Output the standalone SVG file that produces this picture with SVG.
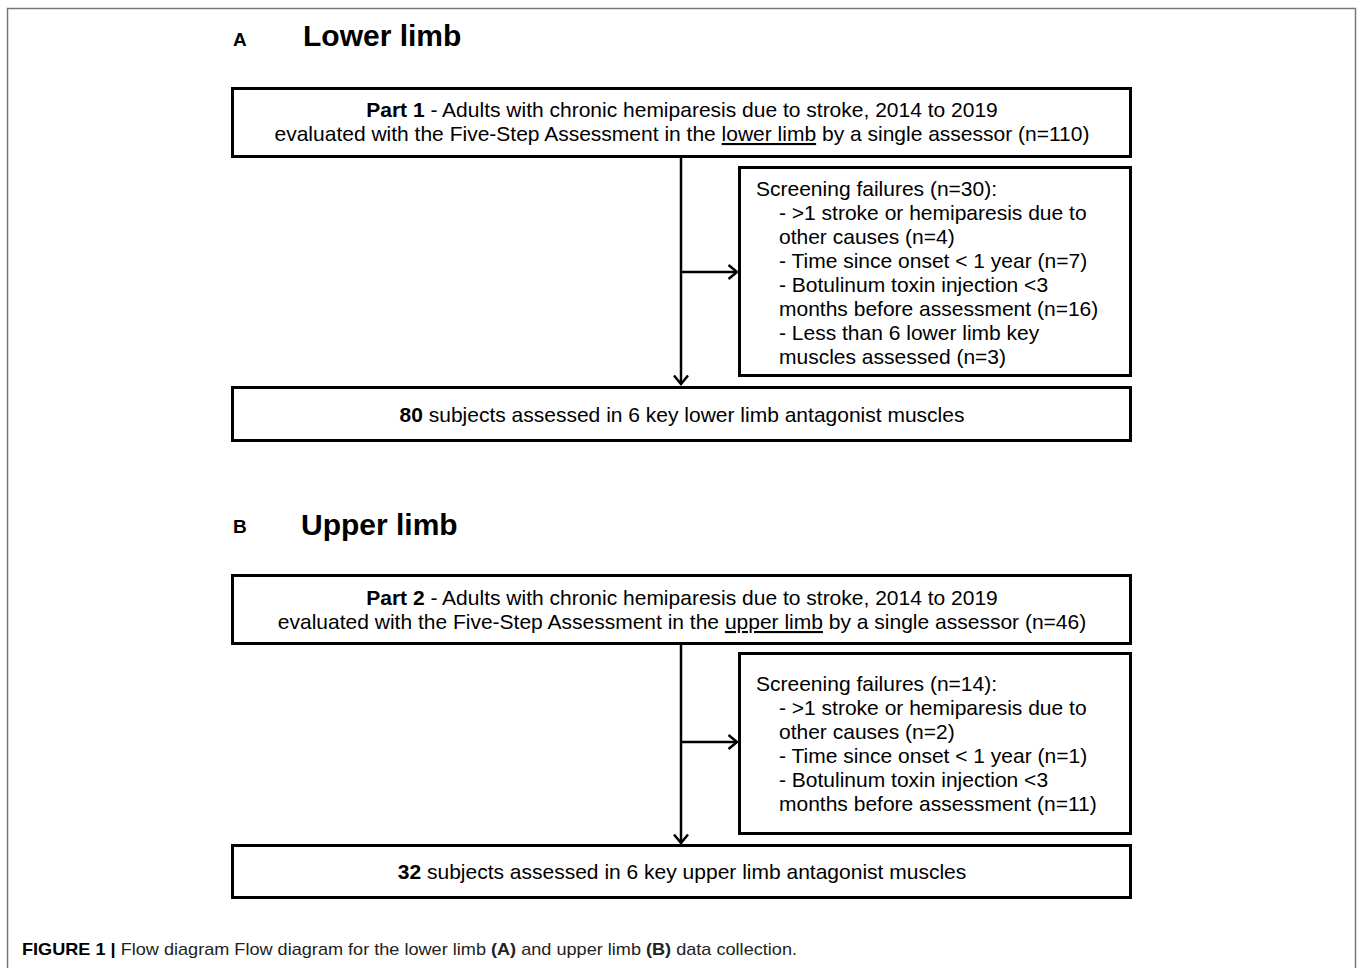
<svg xmlns="http://www.w3.org/2000/svg" width="1358" height="968" viewBox="0 0 1358 968">
<style>
.box{fill:#fff;stroke:#000;stroke-width:3}
.t{font-family:"Liberation Sans",Arial,sans-serif;font-size:21px;fill:#000}
.c{text-anchor:middle}
.b{font-weight:bold}
.title{font-family:"Liberation Sans",Arial,sans-serif;font-size:30px;font-weight:bold}
.lab{font-family:"Liberation Sans",Arial,sans-serif;font-size:19px;font-weight:bold}
.ln{stroke:#000;stroke-width:2.5;fill:none}
.cap{font-family:"Liberation Sans",Arial,sans-serif;font-size:17px;fill:#222}
</style>
<defs>
<marker id="ah" markerWidth="14" markerHeight="18" refX="10" refY="8" orient="auto" markerUnits="userSpaceOnUse">
<path d="M1.5,1 L10,8 L1.5,15" fill="none" stroke="#000" stroke-width="2.5"/>
</marker>
</defs>
<rect x="0" y="0" width="1358" height="968" fill="#fff"/>
<path d="M7.5,968 V8.5 H1355.5 V968" fill="none" stroke="#777" stroke-width="1.5"/>

<text x="233" y="46" class="lab">A</text>
<text x="303" y="46" class="title">Lower limb</text>
<text x="233" y="533" class="lab">B</text>
<text x="301" y="535" class="title">Upper limb</text>

<g id="connectors">
<line x1="681" y1="157" x2="681" y2="384" class="ln" marker-end="url(#ah)"/>
<line x1="681" y1="272" x2="737" y2="272" class="ln" marker-end="url(#ah)"/>
<line x1="681" y1="644" x2="681" y2="843" class="ln" marker-end="url(#ah)"/>
<line x1="681" y1="742" x2="737" y2="742" class="ln" marker-end="url(#ah)"/>
</g>

<g id="part1">
<rect x="232.5" y="88.5" width="898" height="68" class="box"/>
<text x="682" y="117" class="t c"><tspan class="b">Part 1</tspan> - Adults with chronic hemiparesis due to stroke, 2014 to 2019</text>
<text x="682" y="141" class="t c">evaluated with the Five-Step Assessment in the <tspan text-decoration="underline">lower limb</tspan> by a single assessor (n=110)</text>
</g>

<g id="screen1">
<rect x="739.5" y="167.5" width="391" height="208" class="box"/>
<text class="t"><tspan x="756" y="196">Screening failures (n=30):</tspan><tspan x="779" y="220">- &gt;1 stroke or hemiparesis due to</tspan><tspan x="779" y="244">other causes (n=4)</tspan><tspan x="779" y="268">- Time since onset &lt; 1 year (n=7)</tspan><tspan x="779" y="292">- Botulinum toxin injection &lt;3</tspan><tspan x="779" y="316">months before assessment (n=16)</tspan><tspan x="779" y="340">- Less than 6 lower limb key</tspan><tspan x="779" y="364">muscles assessed (n=3)</tspan></text>
</g>

<g id="result1">
<rect x="232.5" y="387.5" width="898" height="53" class="box"/>
<text x="682" y="422" class="t c"><tspan class="b">80</tspan> subjects assessed in 6 key lower limb antagonist muscles</text>
</g>

<g id="part2">
<rect x="232.5" y="575.5" width="898" height="68" class="box"/>
<text x="682" y="605" class="t c"><tspan class="b">Part 2</tspan> - Adults with chronic hemiparesis due to stroke, 2014 to 2019</text>
<text x="682" y="629" class="t c">evaluated with the Five-Step Assessment in the <tspan text-decoration="underline">upper limb</tspan> by a single assessor (n=46)</text>
</g>

<g id="screen2">
<rect x="739.5" y="653.5" width="391" height="180" class="box"/>
<text class="t"><tspan x="756" y="691">Screening failures (n=14):</tspan><tspan x="779" y="715">- &gt;1 stroke or hemiparesis due to</tspan><tspan x="779" y="739">other causes (n=2)</tspan><tspan x="779" y="763">- Time since onset &lt; 1 year (n=1)</tspan><tspan x="779" y="787">- Botulinum toxin injection &lt;3</tspan><tspan x="779" y="811">months before assessment (n=11)</tspan></text>
</g>

<g id="result2">
<rect x="232.5" y="845.5" width="898" height="52" class="box"/>
<text x="682" y="879" class="t c"><tspan class="b">32</tspan> subjects assessed in 6 key upper limb antagonist muscles</text>
</g>

<text x="22" y="955" class="cap" textLength="775" lengthAdjust="spacingAndGlyphs"><tspan font-weight="bold" fill="#000">FIGURE 1 |</tspan> Flow diagram Flow diagram for the lower limb <tspan font-weight="bold">(A)</tspan> and upper limb <tspan font-weight="bold">(B)</tspan> data collection.</text>
</svg>
